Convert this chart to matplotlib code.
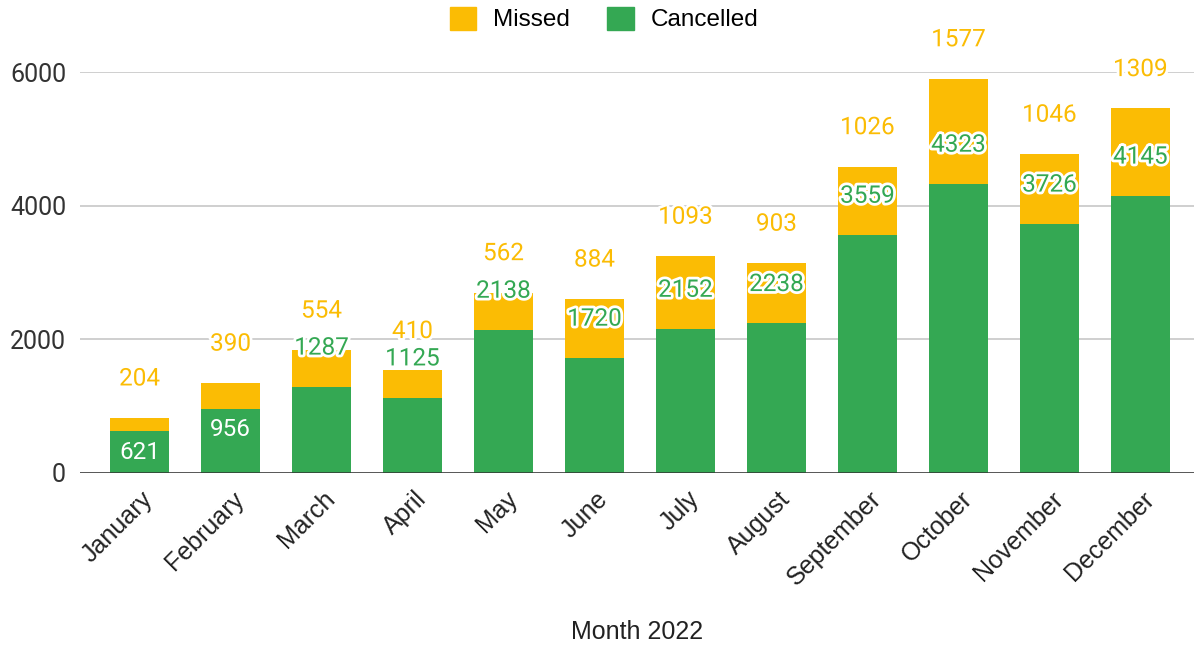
import matplotlib
matplotlib.use('Agg')
import matplotlib.pyplot as plt
import matplotlib.patheffects as pe
from matplotlib.patches import Patch
from matplotlib.transforms import ScaledTranslation

months = ['January', 'February', 'March', 'April', 'May', 'June',
          'July', 'August', 'September', 'October', 'November', 'December']
cancelled = [621, 956, 1287, 1125, 2138, 1720, 2152, 2238, 3559, 4323, 3726, 4145]
missed = [204, 390, 554, 410, 562, 884, 1093, 903, 1026, 1577, 1046, 1309]
yticks = [0, 2000, 4000, 6000]

green = '#34A853'
yellow = '#FBBC04'

W, H = 1194, 647
fig = plt.figure(figsize=(W / 100, H / 100), dpi=100)
ax = fig.add_axes([80 / W, (H - 473) / H, (W - 80) / W, (473 - 72) / H])

x = list(range(len(months)))
ax.bar(x, cancelled, width=0.65, color=green, zorder=2)
ax.bar(x, missed, width=0.65, bottom=cancelled, color=yellow, zorder=2)

ax.set_xlim(-0.654, 11.59)
ax.set_ylim(0, 6000)
ax.set_yticks(yticks)
ax.set_yticklabels([str(v) for v in yticks], fontfamily='Roboto', fontsize=18, color='#333333')
ax.tick_params(axis='y', length=0, pad=10)
ax.grid(axis='y', color='#cccccc', lw=1.3, zorder=0)
ax.axhline(0, color='#333333', lw=1.8, zorder=3)
for s in ax.spines.values():
    s.set_visible(False)

ax.set_xticks(x)
ax.set_xticklabels(months, rotation=45, ha='right', va='center', rotation_mode='anchor',
                   fontfamily='Liberation Sans', fontsize=18, color='#222222')
ax.tick_params(axis='x', length=0, pad=16)
shift = ScaledTranslation(0.1, 0, fig.dpi_scale_trans)
for lab in ax.get_xticklabels():
    lab.set_transform(lab.get_transform() + shift)

halo = [pe.withStroke(linewidth=4, foreground='white')]
for i in x:
    total = cancelled[i] + missed[i]
    ax.annotate(str(missed[i]), (i, total), xytext=(0, 28), textcoords='offset points',
                ha='center', va='center', fontfamily='Roboto', fontsize=17.5,
                color=yellow, path_effects=halo, zorder=5, annotation_clip=False)
    # green label goes outside unless it would run into the missed label
    if missed[i] < 400:
        ax.annotate(str(cancelled[i]), (i, cancelled[i]), xytext=(0, -15),
                    textcoords='offset points', ha='center', va='center',
                    fontfamily='Roboto', fontsize=17.5, color='white', zorder=5)
    else:
        ax.annotate(str(cancelled[i]), (i, cancelled[i]), xytext=(0, 28),
                    textcoords='offset points', ha='center', va='center',
                    fontfamily='Roboto', fontsize=17.5, color=green,
                    path_effects=halo, zorder=5, annotation_clip=False)

fig.text(637 / W, (H - 632) / H, 'Month 2022', ha='center', va='center',
         fontfamily='Liberation Sans', fontsize=18, color='#222222')

handles = [Patch(color=yellow, label='Missed'), Patch(color=green, label='Cancelled')]
fig.legend(handles=handles, loc='center', bbox_to_anchor=(604 / W, (H - 19) / H),
           ncol=2, frameon=False, handlelength=1.1, handleheight=1.1,
           handletextpad=0.7, columnspacing=1.5,
           prop={'family': 'Liberation Sans', 'size': 17.5})

fig.savefig('out.png', dpi=100)
